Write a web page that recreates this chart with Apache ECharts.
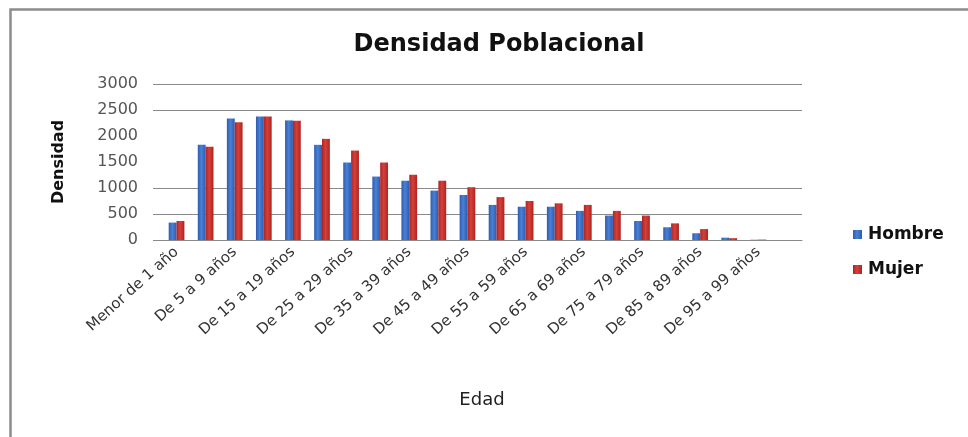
<!DOCTYPE html>
<html>
<head>
<meta charset="utf-8">
<title>Densidad Poblacional</title>
<script src="https://cdn.jsdelivr.net/npm/echarts@6/dist/echarts.min.js"></script>
<style>
  html, body { margin: 0; padding: 0; background: #fff; }
  #chart { width: 968px; height: 437px; }
</style>
</head>
<body>
<div id="chart"></div>
<script>
// Age groups (every other one is labelled on the axis)
const edades = [
  'Menor de 1 año', 'De 1 a 4 años', 'De 5 a 9 años', 'De 10 a 14 años',
  'De 15 a 19 años', 'De 20 a 24 años', 'De 25 a 29 años', 'De 30 a 34 años',
  'De 35 a 39 años', 'De 40 a 44 años', 'De 45 a 49 años', 'De 50 a 54 años',
  'De 55 a 59 años', 'De 60 a 64 años', 'De 65 a 69 años', 'De 70 a 74 años',
  'De 75 a 79 años', 'De 80 a 84 años', 'De 85 a 89 años', 'De 90 a 94 años',
  'De 95 a 99 años', '100 años y más'
];

// Population per age group
const hombre = [335, 1830, 2335, 2375, 2300, 1830, 1490, 1220, 1140, 950, 865,
                675, 640, 640, 560, 470, 365, 245, 130, 45, 5, 0];
const mujer  = [365, 1795, 2265, 2375, 2295, 1945, 1720, 1490, 1255, 1140, 1015,
                825, 750, 705, 675, 560, 470, 320, 210, 35, 8, 0];

// Horizontal guide lines that are drawn across the plot
const guideLines = [0, 500, 1000, 2500, 3000];

const gridColor = '#8a8a8a';

const chart = echarts.init(document.getElementById('chart'), null, { renderer: 'canvas' });

function barGradient(dark, light) {
  return new echarts.graphic.LinearGradient(0, 0, 1, 0, [
    { offset: 0, color: dark },
    { offset: 0.45, color: light },
    { offset: 1, color: dark }
  ]);
}

chart.setOption({
  backgroundColor: '#ffffff',
  animation: false,
  color: ['#3a6ec6', '#c3312d'],
  title: {
    text: 'Densidad Poblacional',
    left: 494,
    top: 28,
    textAlign: 'center',
    textStyle: {
      fontFamily: 'DejaVu Sans',
      fontSize: 24,
      fontWeight: 'bold',
      color: '#111'
    }
  },
  legend: {
    orient: 'vertical',
    left: 848,
    top: 221,
    itemWidth: 9,
    itemHeight: 9,
    itemGap: 18,
    icon: 'rect',
    textStyle: {
      fontFamily: 'DejaVu Sans',
      fontSize: 17,
      fontWeight: 'bold',
      color: '#111',
      padding: [0, 0, 0, 1]
    },
    data: ['Hombre', 'Mujer']
  },
  graphic: [{
    type: 'rect',
    shape: { x: 10.5, y: 9.5, width: 1000, height: 500 },
    style: { fill: 'none', stroke: '#8c8c8c', lineWidth: 2.5 },
    silent: true
  }],
  grid: {
    left: 162,
    right: 166,
    top: 84,
    bottom: 197
  },
  xAxis: {
    type: 'category',
    data: edades,
    name: 'Edad',
    nameLocation: 'middle',
    nameGap: 151,
    nameTextStyle: {
      fontFamily: 'DejaVu Sans',
      fontSize: 18,
      color: '#222',
      verticalAlign: 'top'
    },
    axisLine: { show: true, lineStyle: { color: gridColor, width: 1 } },
    axisTick: { show: false },
    axisLabel: {
      interval: 1,
      rotate: 42,
      margin: 10,
      fontFamily: 'DejaVu Sans',
      fontSize: 15,
      color: '#333'
    },
    splitLine: { show: false }
  },
  yAxis: {
    type: 'value',
    min: 0,
    max: 3000,
    interval: 500,
    name: 'Densidad',
    nameLocation: 'middle',
    nameGap: 95,
    nameTextStyle: {
      fontFamily: 'DejaVu Sans',
      fontSize: 16,
      fontWeight: 'bold',
      color: '#111'
    },
    axisLine: { show: false },
    axisTick: {
      show: true,
      inside: false,
      length: 9,
      customValues: guideLines,
      lineStyle: { color: gridColor, width: 1 }
    },
    axisLabel: {
      margin: 24,
      fontFamily: 'DejaVu Sans',
      fontSize: 16,
      color: '#555',
      formatter: v => String(v)
    },
    splitLine: { show: false }
  },
  series: [
    {
      name: 'Hombre',
      type: 'bar',
      data: hombre,
      barGap: '0%',
      barCategoryGap: '46%',
      z: 3,
      itemStyle: { color: barGradient('#2d5cb0', '#4a80d6') },
      markLine: {
        silent: true,
        symbol: 'none',
        z: 1,
        label: { show: false },
        lineStyle: { color: gridColor, width: 1, type: 'solid' },
        data: guideLines.filter(v => v > 0).map(v => ({ yAxis: v }))
      }
    },
    {
      name: 'Mujer',
      type: 'bar',
      data: mujer,
      z: 3,
      itemStyle: { color: barGradient('#ad2421', '#d6403a') }
    }
  ]
});
</script>
</body>
</html>
